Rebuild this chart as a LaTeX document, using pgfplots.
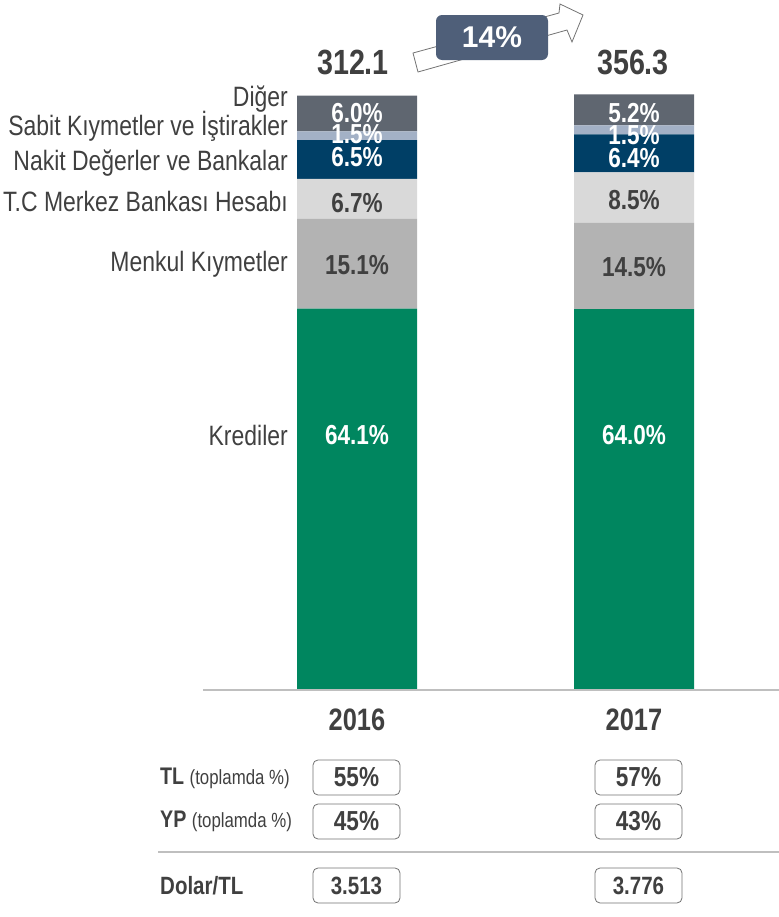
\documentclass[border=0pt]{standalone}
\usepackage{pgfplots}
\pgfplotsset{compat=1.18}
\usepackage{fontspec}
\setmainfont{Liberation Sans}[FakeStretch=0.82]
\newfontfamily\widefont{Liberation Sans}
\definecolor{cKred}{HTML}{00865F}
\definecolor{cMenkul}{HTML}{B3B3B3}
\definecolor{cTCMB}{HTML}{D9D9D9}
\definecolor{cNakit}{HTML}{003F66}
\definecolor{cSabit}{HTML}{A3B1C6}
\definecolor{cDiger}{HTML}{5F6670}
\definecolor{cTxt}{HTML}{404040}
\definecolor{cBox}{HTML}{4F5F79}
\newcommand{\myfs}[1]{\fontsize{#1bp}{#1bp}\selectfont}
\tikzset{vl/.style={font=\myfs{27.5}\bfseries, text=white}, vd/.style={font=\myfs{27.5}\bfseries, text=cTxt}}
\begin{document}
\begin{tikzpicture}
\path[use as bounding box] (0bp,0bp) rectangle (779bp,-917bp);
\begin{axis}[at={(203bp,-690bp)}, anchor=south west, scale only axis,
  width=576bp, height=595bp, xmin=203, xmax=779, ymin=0, ymax=100,
  hide axis, ybar stacked, bar width=120bp, clip=false]
\addplot[fill=cKred, draw=none] coordinates {(357,64.1) (634,64.0)};
\addplot[fill=cMenkul, draw=none] coordinates {(357,15.1) (634,14.5)};
\addplot[fill=cTCMB, draw=none] coordinates {(357,6.7) (634,8.5)};
\addplot[fill=cNakit, draw=none] coordinates {(357,6.5) (634,6.4)};
\addplot[fill=cSabit, draw=none] coordinates {(357,1.5) (634,1.5)};
\addplot[fill=cDiger, draw=none] coordinates {(357,6.0) (634,5.2)};
\end{axis}
\begin{scope}[x=1bp,y=-1bp]
% value labels
\node[vl] at (357,435) {64.1\%};
\node[vd] at (357,265) {15.1\%};
\node[vd] at (357,203) {6.7\%};
\node[vl] at (357,157) {6.5\%};
\node[vl] at (357,134) {1.5\%};
\node[vl] at (357,113) {6.0\%};
\node[vl] at (634,435) {64.0\%};
\node[vd] at (634,267) {14.5\%};
\node[vd] at (634,200) {8.5\%};
\node[vl] at (634,158) {6.4\%};
\node[vl] at (634,135) {1.5\%};
\node[vl] at (634,113) {5.2\%};
% baseline and separator
\draw[line width=1.5bp, color=black!25] (203,690) -- (779,690);
\draw[line width=1.5bp, color=black!25] (158,852) -- (779,852);
% category labels
\tikzset{cl/.style={anchor=east, inner sep=0pt, text=cTxt, font=\myfs{28}}}
\node[cl] at (288,99) {Diğer\ };
\node[cl] at (288,126) {Sabit Kıymetler ve İştirakler};
\node[cl] at (288,163) {Nakit Değerler ve Bankalar};
\node[cl] at (288,201) {T.C Merkez Bankası Hesabı};
\node[cl] at (288,264) {Menkul Kıymetler};
\node[cl] at (288,435) {Krediler};
% totals
\node[text=cTxt, font=\myfs{35}\bfseries] at (353,62) {312.1};
\node[text=cTxt, font=\myfs{35}\bfseries] at (633,62) {356.3};
% growth arrow
\draw[line width=0.8bp, draw=black!55, fill=white]
  (413,53) -- (559,13) -- (560,4) -- (583,15) -- (572,42) -- (567,30) -- (418,72) -- cycle;
\fill[cBox, rounded corners=6bp] (436,15) rectangle (548,60);
\node[text=white, font=\widefont\myfs{30}\bfseries] at (492,37.5) {14\%};
% years
\node[text=cTxt, font=\myfs{31}\bfseries] at (357,720) {2016};
\node[text=cTxt, font=\myfs{31}\bfseries] at (634,720) {2017};
% table rows
\node[anchor=west, inner sep=0pt, text=cTxt] at (160,778) {\myfs{24}\bfseries TL \myfs{20.5}\mdseries(toplamda \%)};
\node[anchor=west, inner sep=0pt, text=cTxt] at (160,821) {\myfs{24}\bfseries YP \myfs{20.5}\mdseries(toplamda \%)};
\node[anchor=west, inner sep=0pt, text=cTxt] at (160,886) {\myfs{25}\bfseries Dolar/TL};
\tikzset{bx/.style={draw=black!55, line width=0.8bp, rounded corners=5bp, minimum width=87bp, minimum height=35bp, inner sep=0pt, text=cTxt, font=\myfs{27.5}\bfseries, fill=white}}
\node[bx] at (356.5,777.5) {55\%};
\node[bx] at (356.5,821.5) {45\%};
\node[bx, font=\myfs{25}\bfseries] at (356.5,885.5) {3.513};
\node[bx] at (638.5,777.5) {57\%};
\node[bx] at (638.5,821.5) {43\%};
\node[bx, font=\myfs{25}\bfseries] at (638.5,885.5) {3.776};
\end{scope}
\end{tikzpicture}
\end{document}
